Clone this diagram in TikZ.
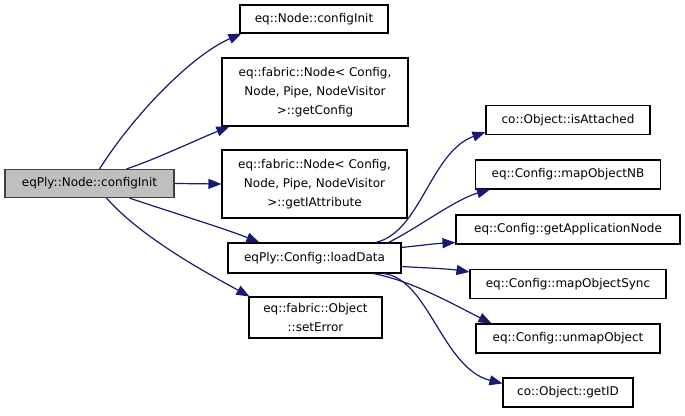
\documentclass[tikz,border=0pt]{standalone}
\usepackage{fontspec}
\setmainfont{DejaVu Sans}
\usetikzlibrary{arrows.meta}
\definecolor{callblue}{RGB}{25,25,112}
\definecolor{rootgray}{RGB}{191,191,191}
\tikzset{
  x=1pt,y=-1pt,
  fn/.style={draw=black,fill=white,line width=1.1pt,minimum width=#1,
    minimum height=29pt,inner sep=2pt,align=center,
    font=\fontsize{12}{19}\selectfont},
  fn/.default=150pt,
  fn root/.style={fn=#1,fill=rootgray,draw=black!75},
  call/.style={draw=callblue,line width=1.2pt,
    -{Triangle[length=13pt,width=10pt]}},
}
\begin{document}
\begin{tikzpicture}
  \useasboundingbox (0,0) rectangle (685,415);
  % caller
  \node[fn root=169pt,minimum height=28pt] (root) at (89.5,183.5) {eqPly::Node::configInit};
  % middle column
  \node[fn=148pt,minimum height=28pt] (nodecfg) at (314,19) {eq::Node::configInit};
  \node[fn=186pt,minimum height=68pt] (getcfg) at (315,92)
    {eq::fabric::Node< Config,\\Node, Pipe, NodeVisitor\\>::getConfig};
  \node[fn=185pt,minimum height=68pt] (getattr) at (314.5,184)
    {eq::fabric::Node< Config,\\Node, Pipe, NodeVisitor\\>::getIAttribute};
  \node[fn=173pt,minimum height=30pt] (load) at (314.5,258) {eqPly::Config::loadData};
  \node[fn=133pt,minimum height=41pt] (seterr) at (315.5,317.5) {eq::fabric::Object\\::setError};
  % right column
  \foreach \n/\y/\w/\t in {isatt/120/164/co::Object::isAttached,
      mapnb/174.5/185/eq::Config::mapObjectNB,
      appnode/229.5/224/eq::Config::getApplicationNode,
      mapsync/284/196/eq::Config::mapObjectSync,
      unmap/338.5/184/eq::Config::unmapObject,
      getid/392.5/130/co::Object::getID}
    \node[fn=\w pt] (\n) at (568,\y) {\t};

  \draw[call] ([xshift=10pt]root.north) .. controls +(35,-55) and +(-50,22) .. ([xshift=2pt]nodecfg.south west);
  \draw[call] ([xshift=37pt]root.north) .. controls +(30,-10) and +(-30,12) .. ([xshift=8pt]getcfg.south west);
  \draw[call] (root.east) -- (getattr.west);
  \draw[call] ([xshift=40pt]root.south) .. controls +(35,12) and +(-35,-14) .. ([xshift=32pt]load.north west);
  \draw[call] ([xshift=17pt]root.south) .. controls +(35,40) and +(-40,-22) .. ([xshift=1pt]seterr.north west);

  \draw[call] ([xshift=-26pt]load.north east) .. controls +(45,-10) and +(-55,20) .. ([yshift=3pt]isatt.south west);
  \draw[call] ([xshift=-13pt]load.north east) .. controls +(30,-15) and +(-35,10) .. ([xshift=15pt]mapnb.south west);
  \draw[call] ([yshift=-5pt]load.north east) .. controls +(20,-2) and +(-20,1) .. ([yshift=2pt]appnode.south west);
  \draw[call] ([yshift=7pt]load.south east) .. controls +(20,1) and +(-20,-3) .. ([yshift=-3pt]mapsync.north west);
  \draw[call] ([xshift=-28pt]load.south east) .. controls +(40,8) and +(-40,-20) .. ([xshift=16pt]unmap.north west);
  \draw[call] ([xshift=-18pt]load.south east) .. controls +(45,5) and +(-60,-15) .. ([yshift=-6pt]getid.north west);
\end{tikzpicture}
\end{document}
